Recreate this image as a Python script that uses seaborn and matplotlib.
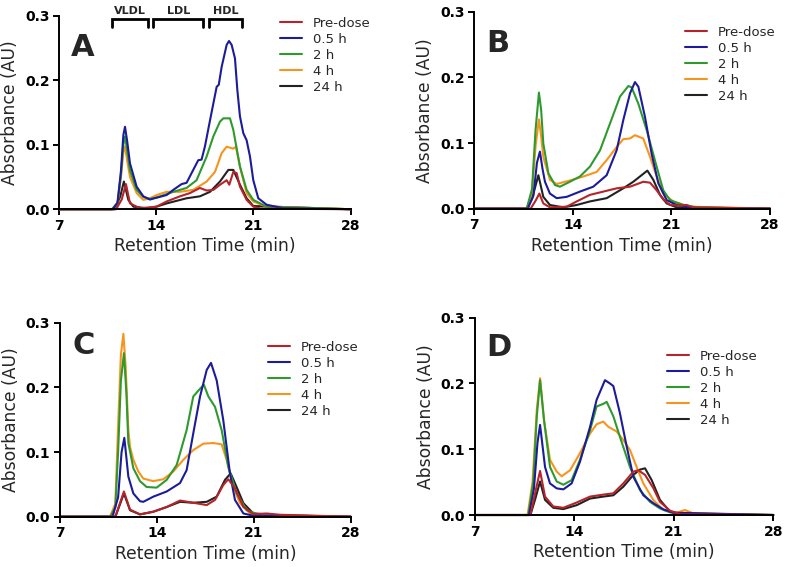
import seaborn as sns
import numpy as np
import pandas as pd
import matplotlib.pyplot as plt

# series labels and colours (legend order)
series = ["Pre-dose", "0.5 h", "2 h", "4 h", "24 h"]
colors = ["#B5242A", "#1C1C9A", "#2E9A2E", "#F7941D", "#222222"]

x_ticks = [7, 14, 21, 28]
y_ticks = [0.0, 0.1, 0.2, 0.3]

# ---- panel A ----
a_pre_x = [7, 11.1, 11.5, 11.81, 12.1, 12.82, 14.02, 14.74, 15.7, 16.42, 17.14, 17.63, 18.11, 18.59, 19.07, 19.26, 19.55, 19.79, 20.03, 20.51, 20.99, 21.5, 28]
a_pre_y = [0, 0, 0.015, 0.039, 0.009, 0.0015, 0.004, 0.012, 0.020, 0.025, 0.033, 0.029, 0.030, 0.038, 0.045, 0.038, 0.058, 0.056, 0.035, 0.0145, 0.004, 0.001, 0]
a_05_x = [7, 10.85, 11.2, 11.45, 11.62, 11.74, 11.9, 12.1, 12.58, 13.06, 13.54, 14.02, 14.74, 15.22, 15.82, 16.18, 16.54, 17.02, 17.26, 17.5, 17.87, 18.35, 18.5, 18.71, 19.07, 19.24, 19.43, 19.67, 19.84, 20.03, 20.27, 20.51, 20.75, 20.99, 21.35, 21.95, 23.15, 28]
a_05_y = [0, 0, 0.01, 0.06, 0.115, 0.128, 0.105, 0.071, 0.035, 0.02, 0.015, 0.018, 0.022, 0.030, 0.039, 0.041, 0.056, 0.076, 0.077, 0.097, 0.138, 0.19, 0.193, 0.221, 0.255, 0.261, 0.255, 0.234, 0.185, 0.144, 0.118, 0.107, 0.082, 0.045, 0.017, 0.007, 0.0015, 0]
a_2_x = [7, 10.8, 11.2, 11.45, 11.62, 11.74, 11.9, 12.1, 12.58, 13.06, 13.54, 14.02, 15.22, 16.18, 16.9, 17.63, 18.11, 18.59, 18.83, 19.31, 19.55, 20.03, 20.51, 20.99, 21.95, 28]
a_2_y = [0, 0, 0.01, 0.055, 0.1, 0.113, 0.09, 0.06, 0.03, 0.019, 0.016, 0.018, 0.027, 0.033, 0.045, 0.082, 0.113, 0.136, 0.141, 0.141, 0.123, 0.066, 0.030, 0.0145, 0.004, 0]
a_4_x = [7, 10.85, 11.2, 11.45, 11.62, 11.74, 11.9, 12.1, 12.58, 13.06, 13.54, 14.02, 14.74, 15.7, 16.66, 17.63, 18.23, 18.71, 19.07, 19.55, 19.74, 20.03, 20.51, 20.99, 21.95, 28]
a_4_y = [0, 0, 0.008, 0.05, 0.088, 0.097, 0.075, 0.05, 0.025, 0.0145, 0.017, 0.022, 0.027, 0.027, 0.030, 0.043, 0.058, 0.087, 0.097, 0.094, 0.097, 0.066, 0.025, 0.012, 0.004, 0]
a_24_x = [7, 11.0, 11.4, 11.66, 11.98, 12.34, 13.3, 14.02, 14.74, 16.18, 17.14, 17.87, 18.59, 19.19, 19.55, 20.03, 20.51, 20.99, 28]
a_24_y = [0, 0, 0.02, 0.043, 0.0145, 0.004, 0.0015, 0.004, 0.009, 0.017, 0.020, 0.027, 0.043, 0.061, 0.061, 0.038, 0.017, 0.005, 0]

# ---- panel B ----
b_pre_x = [7, 11.0, 11.35, 11.62, 11.9, 12.37, 13.56, 14.27, 15.21, 16.16, 17.11, 18.06, 19.0, 19.48, 19.95, 20.42, 20.9, 21.6, 22.08, 22.55, 28]
b_pre_y = [0, 0, 0.012, 0.023, 0.008, 0.002, 0.003, 0.011, 0.021, 0.026, 0.031, 0.0335, 0.041, 0.0396, 0.028, 0.014, 0.0056, 0.0046, 0.0056, 0.002, 0]
b_05_x = [7, 10.8, 11.2, 11.45, 11.66, 11.85, 12.02, 12.37, 12.85, 13.56, 14.5, 15.45, 16.4, 17.11, 17.58, 18.06, 18.41, 18.65, 19.12, 19.59, 20.07, 20.66, 21.37, 21.84, 22.5, 28]
b_05_y = [0, 0, 0.02, 0.07, 0.087, 0.06, 0.041, 0.023, 0.016, 0.018, 0.026, 0.0335, 0.051, 0.089, 0.135, 0.176, 0.193, 0.186, 0.14, 0.084, 0.0386, 0.013, 0.0056, 0.004, 0.001, 0]
b_2_x = [7, 10.72, 11.1, 11.35, 11.59, 11.75, 11.9, 12.26, 12.73, 13.08, 13.79, 14.5, 15.21, 15.93, 16.64, 17.35, 17.94, 18.17, 18.65, 19.24, 19.95, 20.42, 20.9, 21.84, 22.8, 28]
b_2_y = [0, 0, 0.03, 0.12, 0.177, 0.15, 0.0995, 0.054, 0.036, 0.0335, 0.041, 0.049, 0.064, 0.089, 0.13, 0.171, 0.187, 0.185, 0.16, 0.12, 0.064, 0.028, 0.013, 0.0056, 0.002, 0]
b_4_x = [7, 10.75, 11.1, 11.35, 11.59, 11.75, 11.9, 12.37, 12.85, 13.79, 14.74, 15.69, 16.4, 17.11, 17.58, 18.06, 18.41, 19.0, 19.48, 19.95, 20.42, 21.13, 22.3, 28]
b_4_y = [0, 0, 0.025, 0.095, 0.136, 0.11, 0.079, 0.044, 0.0376, 0.043, 0.049, 0.056, 0.074, 0.094, 0.106, 0.107, 0.112, 0.107, 0.079, 0.049, 0.023, 0.011, 0.003, 0]
b_24_x = [7, 10.7, 11.1, 11.55, 11.9, 12.37, 13.32, 14.27, 15.21, 16.4, 17.58, 18.29, 18.88, 19.29, 19.71, 20.19, 20.66, 21.37, 28]
b_24_y = [0, 0, 0.015, 0.051, 0.018, 0.0056, 0.002, 0.0056, 0.011, 0.016, 0.031, 0.041, 0.051, 0.058, 0.044, 0.021, 0.008, 0.002, 0]

# ---- panel C ----
c_pre_x = [7, 11.0, 11.35, 11.62, 12.06, 12.78, 13.74, 14.71, 15.67, 16.63, 17.6, 18.2, 18.8, 19.16, 19.64, 20.25, 20.97, 21.93, 22.9, 28]
c_pre_y = [0, 0, 0.022, 0.039, 0.011, 0.0036, 0.0077, 0.015, 0.025, 0.0216, 0.018, 0.026, 0.049, 0.058, 0.044, 0.015, 0.004, 0.005, 0.003, 0]
c_05_x = [7, 10.8, 11.2, 11.45, 11.65, 11.94, 12.3, 12.78, 13.02, 13.74, 14.71, 15.67, 16.15, 16.63, 17.12, 17.6, 17.91, 18.32, 18.8, 19.28, 19.64, 20.25, 20.97, 28]
c_05_y = [0, 0, 0.03, 0.1, 0.122, 0.062, 0.036, 0.024, 0.023, 0.031, 0.039, 0.052, 0.072, 0.129, 0.186, 0.227, 0.238, 0.211, 0.149, 0.067, 0.026, 0.005, 0.0015, 0]
c_2_x = [7, 10.65, 11.0, 11.2, 11.4, 11.62, 11.8, 11.94, 12.3, 12.78, 13.26, 13.98, 14.71, 15.43, 16.15, 16.63, 17.12, 17.4, 17.72, 18.2, 18.68, 19.16, 19.76, 20.49, 21.45, 28]
c_2_y = [0, 0, 0.015, 0.1, 0.21, 0.253, 0.19, 0.114, 0.075, 0.055, 0.046, 0.045, 0.057, 0.080, 0.134, 0.186, 0.198, 0.204, 0.186, 0.170, 0.134, 0.077, 0.036, 0.010, 0.0026, 0]
c_4_x = [7, 10.61, 11.0, 11.2, 11.4, 11.58, 11.75, 11.94, 12.06, 12.3, 12.66, 13.02, 13.74, 14.47, 15.19, 15.91, 16.63, 17.36, 18.08, 18.68, 19.04, 19.52, 20.0, 20.73, 21.69, 28]
c_4_y = [0, 0, 0.02, 0.14, 0.25, 0.283, 0.23, 0.134, 0.108, 0.088, 0.070, 0.059, 0.055, 0.058, 0.070, 0.088, 0.103, 0.113, 0.114, 0.112, 0.088, 0.046, 0.021, 0.005, 0.0026, 0]
c_24_x = [7, 11.0, 11.35, 11.62, 12.06, 12.78, 13.74, 14.71, 15.67, 16.63, 17.6, 18.32, 18.92, 19.33, 19.76, 20.25, 20.97, 21.93, 22.9, 28]
c_24_y = [0, 0, 0.02, 0.036, 0.010, 0.0036, 0.0077, 0.015, 0.023, 0.0216, 0.023, 0.031, 0.057, 0.067, 0.046, 0.021, 0.005, 0.0036, 0.002, 0]

# ---- panel D ----
d_pre_x = [7, 10.9, 11.25, 11.58, 11.93, 12.51, 13.22, 14.16, 15.1, 16.03, 16.74, 17.44, 18.15, 18.5, 18.97, 19.55, 20.02, 20.73, 21.5, 28]
d_pre_y = [0, 0, 0.035, 0.067, 0.028, 0.013, 0.011, 0.019, 0.028, 0.031, 0.033, 0.048, 0.066, 0.068, 0.061, 0.041, 0.020, 0.0066, 0.001, 0]
d_05_x = [7, 10.8, 11.15, 11.4, 11.58, 11.93, 12.28, 12.75, 13.22, 13.8, 14.39, 15.1, 15.56, 16.15, 16.5, 16.74, 17.2, 17.68, 18.15, 18.85, 19.55, 20.26, 20.96, 28]
d_05_y = [0, 0, 0.04, 0.11, 0.137, 0.073, 0.048, 0.0405, 0.039, 0.048, 0.081, 0.134, 0.175, 0.205, 0.200, 0.196, 0.155, 0.104, 0.058, 0.030, 0.018, 0.0086, 0.0035, 0]
d_2_x = [7, 10.75, 11.1, 11.35, 11.58, 11.86, 12.28, 12.75, 13.22, 13.8, 14.39, 15.1, 15.56, 16.03, 16.27, 16.74, 17.2, 17.91, 18.61, 19.32, 20.02, 20.73, 21.66, 28]
d_2_y = [0, 0, 0.05, 0.15, 0.205, 0.144, 0.073, 0.051, 0.046, 0.053, 0.084, 0.129, 0.165, 0.169, 0.172, 0.150, 0.119, 0.073, 0.038, 0.020, 0.010, 0.004, 0.0025, 0]
d_4_x = [7, 10.7, 11.05, 11.35, 11.58, 11.86, 12.28, 12.75, 13.1, 13.69, 14.39, 15.1, 15.56, 16.03, 16.39, 16.97, 17.44, 17.91, 18.38, 18.85, 19.55, 20.26, 21.19, 21.78, 22.37, 28]
d_4_y = [0, 0, 0.05, 0.16, 0.208, 0.144, 0.084, 0.066, 0.059, 0.068, 0.094, 0.124, 0.138, 0.142, 0.134, 0.127, 0.114, 0.099, 0.073, 0.048, 0.023, 0.0076, 0.0035, 0.0076, 0.0025, 0]
d_24_x = [7, 10.9, 11.25, 11.58, 11.93, 12.51, 13.22, 14.16, 15.1, 16.03, 16.74, 17.44, 18.15, 18.61, 18.97, 19.44, 20.02, 20.73, 21.5, 28]
d_24_y = [0, 0, 0.025, 0.051, 0.023, 0.011, 0.009, 0.015, 0.025, 0.028, 0.030, 0.043, 0.061, 0.069, 0.071, 0.053, 0.023, 0.005, 0.001, 0]

# lipoprotein fractions marked on panel A
fractions = ["VLDL", "LDL", "HDL"]
fraction_start = [10.77, 13.78, 17.79]
fraction_end = [13.37, 17.38, 20.15]

panels = {
    "A": [(a_pre_x, a_pre_y), (a_05_x, a_05_y), (a_2_x, a_2_y), (a_4_x, a_4_y), (a_24_x, a_24_y)],
    "B": [(b_pre_x, b_pre_y), (b_05_x, b_05_y), (b_2_x, b_2_y), (b_4_x, b_4_y), (b_24_x, b_24_y)],
    "C": [(c_pre_x, c_pre_y), (c_05_x, c_05_y), (c_2_x, c_2_y), (c_4_x, c_4_y), (c_24_x, c_24_y)],
    "D": [(d_pre_x, d_pre_y), (d_05_x, d_05_y), (d_2_x, d_2_y), (d_4_x, d_4_y), (d_24_x, d_24_y)],
}

# layout in figure fractions: axes rect, legend anchor, letter position (pixels)
axes_rects = {"A": [0.0755, 0.631, 0.371, 0.341], "B": [0.6042, 0.632, 0.3767, 0.347],
              "C": [0.0764, 0.0887, 0.3703, 0.342], "D": [0.6051, 0.0917, 0.38, 0.348]}
legend_px = {"A": (280, 17), "B": (685, 26), "C": (268, 341), "D": (667, 350)}
letter_px = {"A": (71, 48), "B": (486, 44), "C": (72, 345), "D": (486, 347)}

sns.set_style("ticks")
plt.rcParams['font.family'] = ['DejaVu Sans']

W, H = 785, 567
fig = plt.figure(figsize=(W / 100, H / 100), dpi=100)

for key, data in panels.items():
    frames = []
    for name, (xs, ys) in zip(series, data):
        frames.append(pd.DataFrame({"time": xs, "abs": ys, "sample": name}))
    df = pd.concat(frames, ignore_index=True)

    ax = fig.add_axes(axes_rects[key])
    # draw pre-dose last so it sits on top
    sns.lineplot(data=df, x="time", y="abs", hue="sample", hue_order=series[::-1],
                 palette=colors[::-1], estimator=None, sort=False, linewidth=1.5, ax=ax)
    for ln in ax.lines:
        ln.set_clip_on(False)

    ax.set_xlim(7, 28)
    ax.set_ylim(0, 0.3)
    ax.set_xticks(x_ticks)
    ax.set_yticks(y_ticks)
    ax.set_yticklabels([f"{v:.1f}" for v in y_ticks])
    ax.set_xlabel("Retention Time (min)", fontsize=12.3, labelpad=3)
    ax.set_ylabel("Absorbance (AU)", fontsize=12.3, labelpad=4)
    sns.despine(ax=ax)
    for s in ["left", "bottom"]:
        ax.spines[s].set_linewidth(1.4)
        ax.spines[s].set_color("black")
    ax.tick_params(direction="out", length=4, width=1.4, labelsize=10, pad=3, colors="black")
    for lab in ax.get_xticklabels() + ax.get_yticklabels():
        lab.set_fontweight("bold")

    handles, labels = ax.get_legend_handles_labels()
    lx, ly = legend_px[key]
    ax.legend(handles[::-1], labels[::-1], loc="upper left",
              bbox_to_anchor=(lx / W, 1 - ly / H), bbox_transform=fig.transFigure,
              frameon=False, fontsize=9.5, borderpad=0, borderaxespad=0,
              handlelength=1.7, handletextpad=0.8, labelspacing=0.22)

    tx, ty = letter_px[key]
    fig.text(tx / W, 1 - ty / H, key, fontsize=22, fontweight="bold", ha="left", va="center")

    if key == "A":
        for name, x0, x1 in zip(fractions, fraction_start, fraction_end):
            ax.plot([x0, x0, x1, x1], [0.283, 0.295, 0.295, 0.283], color="black",
                    linewidth=2, clip_on=False, solid_joinstyle="miter")
            ax.text((x0 + x1) / 2, 0.307, name, fontsize=8, fontweight="bold",
                    ha="center", va="center", clip_on=False)

fig.savefig("out.png", dpi=100)
